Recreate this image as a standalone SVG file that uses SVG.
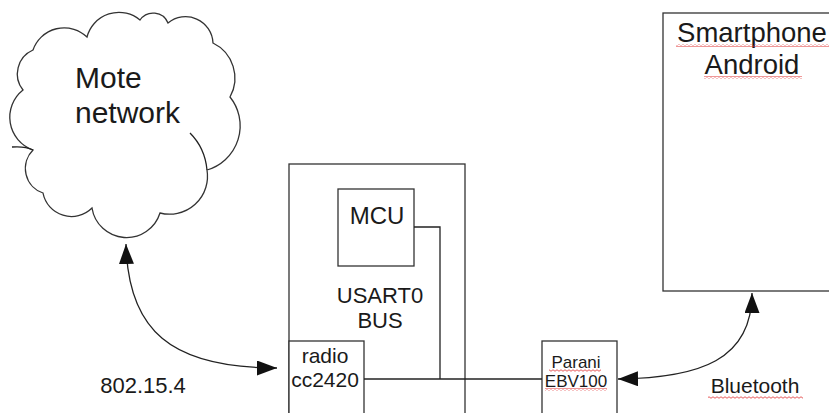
<svg xmlns="http://www.w3.org/2000/svg" width="829" height="413" viewBox="0 0 829 413">
<style>
.box{fill:#fff;stroke:#333;stroke-width:1.3}
.ln{fill:none;stroke:#222;stroke-width:1.3}
.t{font-family:"Liberation Sans",Arial,sans-serif;fill:#1a1a1a;text-anchor:middle}
.sq{fill:url(#squig)}
</style>
<defs>
<marker id="ah" markerUnits="userSpaceOnUse" markerWidth="22" markerHeight="16" refX="20" refY="7.5" orient="auto-start-reverse">
<path d="M0,0 L20,7.5 L0,15 Z" fill="#111"/>
</marker>
<pattern id="squig" patternUnits="userSpaceOnUse" width="4" height="3">
<path d="M0,1.5 Q1,0 2,1.5 Q3,3 4,1.5" fill="none" stroke="#e03030" stroke-width="0.8"/>
</pattern>
</defs>
<rect width="829" height="413" fill="#fff"/>

<g id="cloud">
<path class="box" d="M92,208 A35,35 0 0 0 160,213 A38,38 0 0 0 207,170 A46,46 0 0 0 230,97 A39,39 0 0 0 213,43 A27.5,27.5 0 0 0 168,23 A16,16 0 0 0 140,20 A33,33 0 0 0 87,37 A33,33 0 0 0 33,50 A26,26 0 0 0 23,90 A34.7,34.7 0 0 0 33,150 A26,26 0 0 0 43,193 A29,29 0 0 0 92,208 Z"/>
<path class="ln" d="M190,133 Q205,148 207,170"/>
<path class="ln" d="M12,147 Q25,146 33,150"/>
<text class="t" x="75" y="88" style="text-anchor:start" font-size="30">Mote</text>
<text class="t" x="75" y="123" style="text-anchor:start" font-size="30">network</text>
</g>

<g id="mainboard">
<rect class="box" x="289" y="164" width="176" height="270"/>
<text class="t" x="380" y="303" font-size="22">USART0</text>
<text class="t" x="380" y="328" font-size="22">BUS</text>
</g>

<g id="mcu">
<rect class="box" x="338" y="189" width="76" height="77"/>
<text class="t" x="377" y="224" font-size="24">MCU</text>
</g>

<g id="radio">
<rect class="box" x="289" y="341" width="75" height="90"/>
<text class="t" x="325" y="363" font-size="21">radio</text>
<text class="t" x="325" y="387" font-size="21">cc2420</text>
</g>

<g id="parani">
<rect class="box" x="542" y="341" width="75" height="90"/>
<text class="t" x="576" y="368" font-size="17">Parani</text>
<rect class="sq" x="549" y="369" width="52" height="3"/>
<text class="t" x="576" y="387" font-size="17">EBV100</text>
<rect class="sq" x="545" y="388" width="62" height="3"/>
</g>

<g id="smartphone">
<rect class="box" x="663" y="13" width="180" height="278"/>
<text class="t" x="752" y="42" font-size="27.5">Smartphone</text>
<rect class="sq" x="676" y="44" width="153" height="3"/>
<text class="t" x="752" y="74" font-size="27.5">Android</text>
<rect class="sq" x="704" y="76" width="98" height="3"/>
</g>

<g id="labels">
<text class="t" x="143" y="393" font-size="22">802.15.4</text>
<text class="t" x="755" y="393" font-size="21">Bluetooth</text>
<rect class="sq" x="708" y="396" width="95" height="3"/>
</g>

<g id="connectors">
<path class="ln" d="M126,244 C128,330 170,368 277,368" marker-start="url(#ah)" marker-end="url(#ah)"/>
<path class="ln" d="M618,379 C700,378 752,360 752,293" marker-start="url(#ah)" marker-end="url(#ah)"/>
<path class="ln" d="M414,227 H440 V379"/>
<path class="ln" d="M364,379 H542"/>
</g>
</svg>
